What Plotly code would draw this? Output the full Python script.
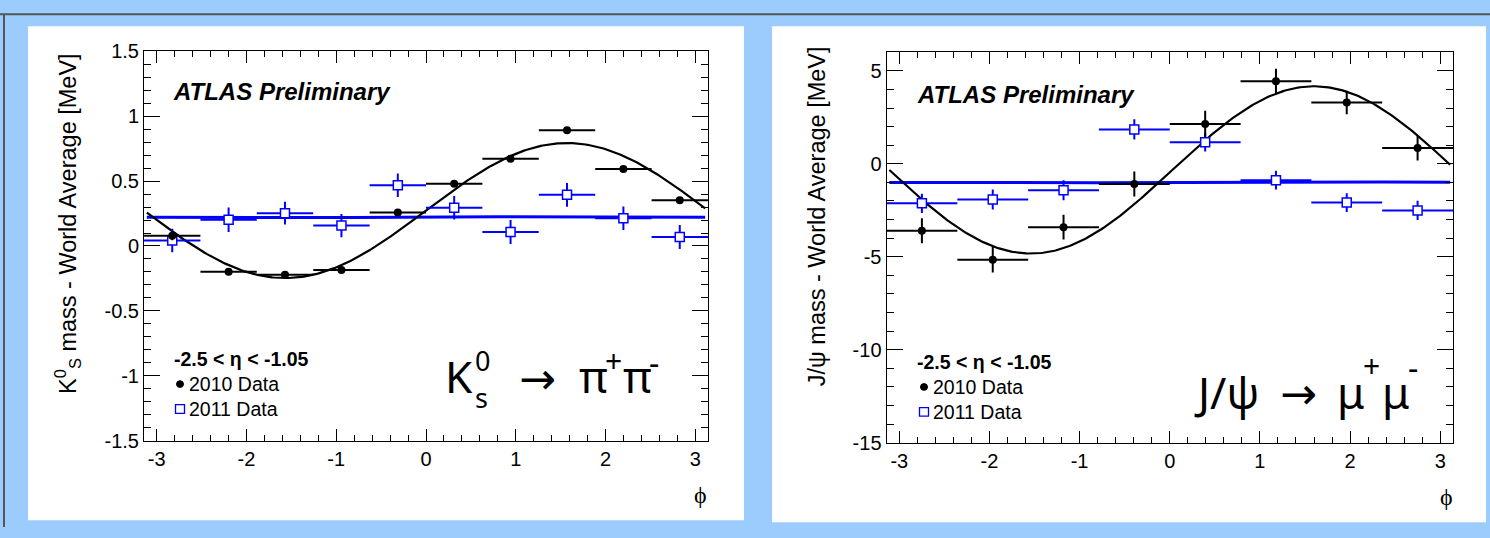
import numpy as np
import plotly.graph_objects as go

W, H = 1490, 538

# ---------------- data ----------------
# K0s panel: 10 bins in phi
ks_phi = [-2.827, -2.199, -1.571, -0.942, -0.314, 0.314, 0.942, 1.571, 2.199, 2.827]
ks_phi_halfwidth = [0.314] * 10
ks_2010 = [0.079, -0.198, -0.222, -0.185, 0.258, 0.480, 0.672, 0.892, 0.593, 0.352]
ks_2010_err = [0.035, 0.025, 0.025, 0.025, 0.025, 0.025, 0.025, 0.025, 0.025, 0.025]
ks_2011 = [0.042, 0.202, 0.253, 0.157, 0.468, 0.295, 0.108, 0.394, 0.214, 0.069]
ks_2011_err = [0.090, 0.095, 0.088, 0.090, 0.091, 0.091, 0.092, 0.091, 0.091, 0.092]
# sinusoidal fits: offset, amplitude, phase
ks_fit_2010 = (0.273, 0.520, 0.0)
ks_fit_2011 = (0.222, 0.004, 0.0)

# J/psi panel: 8 bins in phi
jp_phi = [-2.749, -1.963, -1.178, -0.393, 0.393, 1.178, 1.963, 2.749]
jp_phi_halfwidth = [0.393] * 8
jp_2010 = [-3.60, -5.16, -3.41, -1.09, 2.14, 4.44, 3.30, 0.85]
jp_2010_err = [0.67, 0.69, 0.67, 0.67, 0.71, 0.67, 0.63, 0.67]
jp_2011 = [-2.13, -1.92, -1.42, 1.85, 1.16, -0.88, -2.09, -2.51]
jp_2011_err = [0.52, 0.54, 0.54, 0.54, 0.50, 0.50, 0.50, 0.52]
jp_fit_2010 = (-0.33, 4.50, 0.03)
jp_fit_2011 = (-1.00, 0.03, 0.0)

x_tickvals = [-3, -2, -1, 0, 1, 2, 3]
x_ticktext = ["-3", "-2", "-1", "0", "1", "2", "3"]
ks_tickvals = [-1.5, -1, -0.5, 0, 0.5, 1, 1.5]
ks_ticktext = ["-1.5", "-1", "-0.5", "0", "0.5", "1", "1.5"]
jp_tickvals = [-15, -10, -5, 0, 5]
jp_ticktext = ["-15", "-10", "-5", "0", "5"]

ETA_RANGE = "-2.5 < η < -1.05"
SERIES = ["2010 Data", "2011 Data"]

BLUE = "#0000ff"
BG = "#9ccbfd"
FONT = "Liberation Sans, Arial, Helvetica, sans-serif"
BIG = "Noto Sans, Open Sans, DejaVu Sans, sans-serif"


def px(x):
    return x / W


def py(y):
    return 1 - y / H


def fit_curve(params, lo=-3.11, hi=3.11, n=300):
    c, a, d = params
    x = np.linspace(lo, hi, n)
    return x, c + a * np.sin(x - d)


fig = go.Figure()

panels = [
    dict(xa="x", ya="y", phi=ks_phi, hw=ks_phi_halfwidth,
         d10=ks_2010, e10=ks_2010_err, d11=ks_2011, e11=ks_2011_err,
         f10=ks_fit_2010, f11=ks_fit_2011),
    dict(xa="x2", ya="y2", phi=jp_phi, hw=jp_phi_halfwidth,
         d10=jp_2010, e10=jp_2010_err, d11=jp_2011, e11=jp_2011_err,
         f10=jp_fit_2010, f11=jp_fit_2011),
]

for p in panels:
    fx, fy = fit_curve(p["f11"])
    fig.add_trace(go.Scatter(x=fx, y=fy, mode="lines", xaxis=p["xa"], yaxis=p["ya"],
                             line=dict(color=BLUE, width=3), showlegend=False, hoverinfo="skip"))
    fx, fy = fit_curve(p["f10"])
    fig.add_trace(go.Scatter(x=fx, y=fy, mode="lines", xaxis=p["xa"], yaxis=p["ya"],
                             line=dict(color="black", width=2.2), showlegend=False, hoverinfo="skip"))
    fig.add_trace(go.Scatter(
        x=p["phi"], y=p["d11"], mode="markers", xaxis=p["xa"], yaxis=p["ya"], name=SERIES[1],
        marker=dict(symbol="square", size=9, color="white", line=dict(color=BLUE, width=1.5)),
        error_x=dict(type="data", array=p["hw"], color=BLUE, thickness=2, width=0),
        error_y=dict(type="data", array=p["e11"], color=BLUE, thickness=2, width=0),
        showlegend=False))
    fig.add_trace(go.Scatter(
        x=p["phi"], y=p["d10"], mode="markers", xaxis=p["xa"], yaxis=p["ya"], name=SERIES[0],
        marker=dict(symbol="circle", size=8, color="black"),
        error_x=dict(type="data", array=p["hw"], color="black", thickness=2, width=0),
        error_y=dict(type="data", array=p["e10"], color="black", thickness=2, width=0),
        showlegend=False))


def xaxis_style(domain):
    return dict(domain=domain, range=[-np.pi, np.pi], tickvals=x_tickvals, ticktext=x_ticktext,
                ticks="inside", ticklen=12, tickwidth=1, tickcolor="black",
                minor=dict(dtick=0.2, tick0=0, ticks="inside", ticklen=6, tickcolor="black", tickwidth=1),
                showline=True, linecolor="black", linewidth=1, mirror="allticks",
                showgrid=False, zeroline=False, tickfont=dict(family=FONT, size=20, color="black"))


def yaxis_style(domain, rng, tv, tt, minor_dt, anchor):
    return dict(domain=domain, range=rng, tickvals=tv, ticktext=tt, anchor=anchor,
                ticks="inside", ticklen=16, tickwidth=1, tickcolor="black",
                minor=dict(dtick=minor_dt, tick0=0, ticks="inside", ticklen=7, tickcolor="black", tickwidth=1),
                showline=True, linecolor="black", linewidth=1, mirror="allticks",
                showgrid=False, zeroline=False, tickfont=dict(family=FONT, size=20, color="black"))


shapes = [
    dict(type="rect", xref="paper", yref="paper", x0=px(28), x1=px(744), y0=py(531), y1=py(16),
         fillcolor="white", line=dict(width=0), layer="below"),
    dict(type="rect", xref="paper", yref="paper", x0=px(772), x1=px(1486), y0=py(533), y1=py(16),
         fillcolor="white", line=dict(width=0), layer="below"),
    dict(type="line", xref="paper", yref="paper", x0=0, x1=1, y0=py(3.5), y1=py(3.5),
         line=dict(color="#555555", width=2), layer="below"),
    dict(type="line", xref="paper", yref="paper", x0=px(4), x1=px(4), y0=0, y1=py(3.5),
         line=dict(color="#555555", width=2), layer="below"),
]

annotations = []


def text(x, y, s, size, xanchor="left", family=FONT, angle=0, color="black"):
    annotations.append(dict(x=px(x), y=py(y), xref="paper", yref="paper", text=s, showarrow=False,
                            xanchor=xanchor, yanchor="middle", textangle=angle, borderpad=0,
                            font=dict(family=family, size=size, color=color)))


# panel texts
for (ax_x, ax_y, lg_x, lg_y, mk_x, ytitle, ytx, yty) in [
    (172, 84, 173, 363, 180, "K<sup>0</sup><sub>S</sub> mass - World Average [MeV]", 68, 222),
    (916, 87, 916, 366, 924, "J/ψ mass - World Average [MeV]", 817, 214),
]:
    text(ax_x, ax_y, "<b><i>ATLAS Preliminary</i></b>", 24)
    text(lg_x, lg_y, "<b>" + ETA_RANGE + "</b>", 19.5)
    text(mk_x + 8, lg_y + 26, SERIES[0], 19.5)
    text(mk_x + 8, lg_y + 52, SERIES[1], 19.5)
    shapes.append(dict(type="circle", xref="paper", yref="paper",
                       x0=px(mk_x - 3.5), x1=px(mk_x + 3.5), y0=py(lg_y + 26 + 3.5), y1=py(lg_y + 26 - 3.5),
                       fillcolor="black", line=dict(color="black", width=1)))
    shapes.append(dict(type="rect", xref="paper", yref="paper",
                       x0=px(mk_x - 4.5), x1=px(mk_x + 4.5), y0=py(lg_y + 52 + 4.5), y1=py(lg_y + 52 - 4.5),
                       fillcolor="white", line=dict(color=BLUE, width=1.3)))
    text(ytx, yty, ytitle, 23.5, xanchor="center", angle=-90)

# x-axis titles
text(700, 505, "ϕ", 24, xanchor="center", family="Liberation Serif, DejaVu Serif, serif")
text(1446, 507, "ϕ", 24, xanchor="center", family="Liberation Serif, DejaVu Serif, serif")

# decay labels, set piece by piece (superscript/subscript stacked after K)
text(444, 381, "K", 44, family=BIG)
text(474, 364, "0", 27, family=BIG)
text(474, 403, "s", 27, family=BIG)
text(518, 382, "→", 44, family=BIG)
text(578, 381, "π", 44, family=BIG)
text(604, 364, "+", 30, family=BIG)
text(622, 381, "π", 44, family=BIG)
text(648, 366, "-", 32, family=BIG)

text(1193, 397, "J/ψ", 44, family=BIG)
text(1279, 397, "→", 44, family=BIG)
text(1336, 397, "μ", 44, family=BIG)
text(1362, 370, "+", 30, family=BIG)
text(1381, 397, "μ", 44, family=BIG)
text(1407, 372, "-", 32, family=BIG)

fig.update_layout(
    width=W, height=H, autosize=False,
    margin=dict(l=0, r=0, t=0, b=0),
    paper_bgcolor=BG, plot_bgcolor="white",
    xaxis=xaxis_style([px(144), px(708)]) | dict(anchor="y"),
    yaxis=yaxis_style([py(448), py(42)], [-1.5, 1.5], ks_tickvals, ks_ticktext, 0.1, "x"),
    xaxis2=xaxis_style([px(886.5), px(1453)]) | dict(anchor="y2"),
    yaxis2=yaxis_style([py(450), py(43)], [-15, 6], jp_tickvals, jp_ticktext, 1, "x2"),
    shapes=shapes, annotations=annotations, showlegend=False,
)

fig.write_html("out.html")
